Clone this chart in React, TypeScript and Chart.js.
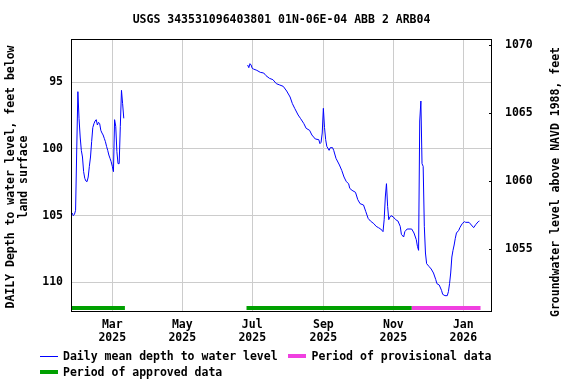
import React, { useEffect, useRef } from "react";
import { Chart, registerables } from "chart.js";

Chart.register(...registerables);

const FONT = '"DejaVu Sans Mono", "Liberation Mono", monospace';

const titleText = "USGS 343531096403801 01N-06E-04 ABB 2 ARB04";
const leftTitleLines = ["DAILY Depth to water level, feet below", "land surface"];
const rightTitleText = "Groundwater level above NAVD 1988, feet";
const legendLineLabel = "Daily mean depth to water level";
const legendProvisionalLabel = "Period of provisional data";
const legendApprovedLabel = "Period of approved data";

// Daily mean depth to water (feet below land surface); null marks the data gap
const obsDates = [
  "2025-01-25", "2025-01-26", "2025-01-27", "2025-01-28", "2025-01-29", "2025-01-30", "2025-01-31",
  "2025-02-01", "2025-02-02", "2025-02-03", "2025-02-04", "2025-02-05", "2025-02-06", "2025-02-07",
  "2025-02-08", "2025-02-09", "2025-02-10", "2025-02-11", "2025-02-12", "2025-02-13", "2025-02-14",
  "2025-02-15", "2025-02-16", "2025-02-17", "2025-02-18", "2025-02-19", "2025-02-20", "2025-02-21",
  "2025-02-22", "2025-02-23", "2025-02-24", "2025-02-25", "2025-02-26", "2025-02-27", "2025-02-28",
  "2025-03-01", "2025-03-02", "2025-03-03", "2025-03-04", "2025-03-05", "2025-03-06", "2025-03-07",
  "2025-03-08", "2025-03-09", "2025-03-10", "2025-03-11",
  "2025-05-01",
  "2025-06-27", "2025-06-28", "2025-06-29", "2025-06-30", "2025-07-01", "2025-07-02", "2025-07-05",
  "2025-07-08", "2025-07-11", "2025-07-13", "2025-07-16", "2025-07-19", "2025-07-22", "2025-07-25",
  "2025-07-28", "2025-07-31", "2025-08-03", "2025-08-05", "2025-08-07", "2025-08-10", "2025-08-12",
  "2025-08-15", "2025-08-17", "2025-08-20", "2025-08-22", "2025-08-25", "2025-08-28", "2025-08-29",
  "2025-08-30", "2025-08-31", "2025-09-01", "2025-09-02", "2025-09-03", "2025-09-04", "2025-09-06",
  "2025-09-07", "2025-09-09", "2025-09-10", "2025-09-12", "2025-09-15", "2025-09-17", "2025-09-19",
  "2025-09-21", "2025-09-23", "2025-09-24", "2025-09-26", "2025-09-29", "2025-10-01", "2025-10-03",
  "2025-10-06", "2025-10-08", "2025-10-10", "2025-10-12", "2025-10-15", "2025-10-17", "2025-10-19",
  "2025-10-21", "2025-10-23", "2025-10-24", "2025-10-25", "2025-10-26", "2025-10-27", "2025-10-28",
  "2025-10-29", "2025-10-30", "2025-11-01", "2025-11-03", "2025-11-05", "2025-11-07", "2025-11-08",
  "2025-11-10", "2025-11-11", "2025-11-13", "2025-11-17", "2025-11-19", "2025-11-21", "2025-11-22",
  "2025-11-23", "2025-11-24", "2025-11-25", "2025-11-26", "2025-11-27", "2025-11-28", "2025-11-29",
  "2025-11-30", "2025-12-02", "2025-12-04", "2025-12-06", "2025-12-08", "2025-12-09", "2025-12-11",
  "2025-12-13", "2025-12-14", "2025-12-16", "2025-12-18", "2025-12-19", "2025-12-20", "2025-12-21",
  "2025-12-22", "2025-12-23", "2025-12-24", "2025-12-25", "2025-12-26", "2025-12-28", "2025-12-29",
  "2025-12-31", "2026-01-02", "2026-01-03", "2026-01-06", "2026-01-08", "2026-01-10", "2026-01-12",
  "2026-01-14", "2026-01-15",
];

const depths: (number | null)[] = [
  104.8, 105.0, 104.9, 104.6, 100.0, 95.7, 97.7,
  99.1, 100.1, 100.6, 101.7, 102.2, 102.4, 102.45,
  102.1, 101.3, 100.6, 99.45, 98.4, 98.1, 97.9,
  97.8, 98.2, 98.0, 98.1, 98.6, 98.8, 98.95,
  99.2, 99.45, 99.8, 100.1, 100.45, 100.7, 100.95,
  101.3, 101.7, 97.8, 98.3, 100.2, 101.1, 101.1,
  98.3, 95.6, 96.6, 97.7,
  null,
  93.7, 93.9, 93.6, 93.7, 93.95, 94.0, 94.1,
  94.25, 94.3, 94.5, 94.7, 94.8, 95.1, 95.2,
  95.3, 95.65, 96.1, 96.6, 96.95, 97.45, 97.7,
  98.1, 98.45, 98.6, 98.95, 99.25, 99.3, 99.6,
  99.5, 98.8, 96.95, 98.4, 99.3, 99.8, 100.1,
  99.9, 99.9, 100.1, 100.7, 101.2, 101.6, 102.1,
  102.45, 102.6, 102.95, 103.1, 103.25, 103.8, 104.1,
  104.2, 104.7, 105.2, 105.4, 105.6, 105.8, 105.9,
  106.0, 106.2, 105.3, 103.6, 102.6, 104.3, 105.3,
  105.1, 105.0, 105.1, 105.3, 105.4, 105.8, 106.4,
  106.6, 106.2, 106.0, 106.0, 106.3, 106.8, 107.3,
  107.6, 97.9, 96.4, 101.1, 101.3, 105.8, 107.8,
  108.6, 108.8, 109.0, 109.3, 109.8, 110.1, 110.2,
  110.6, 110.9, 111.0, 111.0, 110.7, 110.1, 109.3,
  108.1, 107.6, 107.2, 106.7, 106.3, 106.1, 105.9,
  105.6, 105.45, 105.5, 105.5, 105.7, 105.9, 105.65,
  105.45, 105.4,
];

const approvedStarts = ["2025-01-24", "2025-06-26"];
const approvedEnds = ["2025-03-12", "2025-11-17"];
const provisionalStarts = ["2025-11-17"];
const provisionalEnds = ["2026-01-16"];
const periodBarDepth = 111.92;

const monthTickDates = ["2025-03-01", "2025-05-01", "2025-07-01", "2025-09-01", "2025-11-01", "2026-01-01"];
const monthTickNames = ["Mar", "May", "Jul", "Sep", "Nov", "Jan"];
const monthTickYears = ["2025", "2025", "2025", "2025", "2025", "2026"];

const depthTicks = [95, 100, 105, 110];
const elevTicks = [1055, 1060, 1065, 1070];

const xStart = "2025-01-24";
const xEnd = "2026-01-26";
const depthTop = 91.75;
const depthBottom = 112.15;
const elevBottom = 1050.47;
const elevTop = 1070.44;

const dayNum = (s: string) =>
  Date.UTC(+s.slice(0, 4), +s.slice(5, 7) - 1, +s.slice(8, 10)) / 86400000;

const GREEN = "#00a000";
const PINK = "#f040e0";
const BLUE = "#0000ff";

export default function App() {
  const canvasRef = useRef<HTMLCanvasElement | null>(null);

  useEffect(() => {
    document.body.style.margin = "0";
    const canvas = canvasRef.current;
    if (!canvas) return;

    const linePoints = obsDates.map((d, i) => ({ x: dayNum(d), y: depths[i] }));

    const periodDatasets: any[] = [];
    approvedStarts.forEach((s, i) => {
      periodDatasets.push({
        data: [
          { x: dayNum(s), y: periodBarDepth },
          { x: dayNum(approvedEnds[i]), y: periodBarDepth },
        ],
        borderColor: GREEN,
        borderWidth: 4,
        borderCapStyle: "butt",
        pointRadius: 0,
        yAxisID: "y",
      });
    });
    provisionalStarts.forEach((s, i) => {
      periodDatasets.push({
        data: [
          { x: dayNum(s), y: periodBarDepth },
          { x: dayNum(provisionalEnds[i]), y: periodBarDepth },
        ],
        borderColor: PINK,
        borderWidth: 4,
        borderCapStyle: "butt",
        pointRadius: 0,
        yAxisID: "y",
      });
    });

    const tickFont = { family: FONT, size: 11.5, weight: "bold" as const, lineHeight: 1.1 };

    const decor = {
      id: "decor",
      afterDraw(chart: any) {
        const ctx = chart.ctx as CanvasRenderingContext2D;
        const { left, right, top, bottom } = chart.chartArea;
        ctx.save();
        // frame
        ctx.strokeStyle = "#000";
        ctx.lineWidth = 1;
        ctx.strokeRect(left + 0.5, top + 0.5, right - left - 1, bottom - top);
        // right axis inward ticks
        const y2 = chart.scales.y2;
        elevTicks.forEach((v) => {
          const py = Math.round(y2.getPixelForValue(v)) + 0.5;
          ctx.beginPath();
          ctx.moveTo(right - 3, py);
          ctx.lineTo(right, py);
          ctx.stroke();
        });

        ctx.fillStyle = "#000";
        ctx.font = `bold 11.5px ${FONT}`;
        ctx.textBaseline = "middle";
        // title
        ctx.textAlign = "center";
        ctx.fillText(titleText, (left + right) / 2, 20);

        // left axis title
        const midY = (top + bottom) / 2 + 2;
        ctx.save();
        ctx.translate(11, midY);
        ctx.rotate(-Math.PI / 2);
        ctx.fillText(leftTitleLines[0], 0, 0);
        ctx.restore();
        ctx.save();
        ctx.translate(24.5, midY);
        ctx.rotate(-Math.PI / 2);
        ctx.fillText(leftTitleLines[1], 0, 0);
        ctx.restore();
        // right axis title
        ctx.save();
        ctx.translate(556.5, midY + 5);
        ctx.rotate(-Math.PI / 2);
        ctx.fillText(rightTitleText, 0, 0);
        ctx.restore();

        // legend
        ctx.textAlign = "left";
        ctx.strokeStyle = BLUE;
        ctx.lineWidth = 1;
        ctx.beginPath();
        ctx.moveTo(40, 356.5);
        ctx.lineTo(58, 356.5);
        ctx.stroke();
        ctx.fillText(legendLineLabel, 63, 357);

        ctx.strokeStyle = PINK;
        ctx.lineWidth = 4;
        ctx.beginPath();
        ctx.moveTo(288, 356);
        ctx.lineTo(306, 356);
        ctx.stroke();
        ctx.fillText(legendProvisionalLabel, 311.5, 357);

        ctx.strokeStyle = GREEN;
        ctx.beginPath();
        ctx.moveTo(40, 372);
        ctx.lineTo(58, 372);
        ctx.stroke();
        ctx.fillText(legendApprovedLabel, 63, 373);
        ctx.restore();
      },
    };

    const chart = new Chart(canvas, {
      type: "line",
      data: {
        datasets: [
          {
            data: linePoints,
            borderColor: BLUE,
            borderWidth: 1,
            pointRadius: 0,
            tension: 0,
            spanGaps: false,
            yAxisID: "y",
          } as any,
          ...periodDatasets,
        ],
      },
      options: {
        animation: false,
        responsive: false,
        devicePixelRatio: 1,
        layout: { padding: { top: 39, left: 0, right: 0, bottom: 0 } },
        plugins: {
          legend: { display: false },
          title: { display: false },
          tooltip: { enabled: false },
        },
        scales: {
          x: {
            type: "linear",
            min: dayNum(xStart),
            max: dayNum(xEnd),
            afterBuildTicks: (s: any) => {
              s.ticks = monthTickDates.map((d) => ({ value: dayNum(d) }));
            },
            afterFit: (s: any) => {
              s.height = 73;
            },
            ticks: {
              autoSkip: false,
              maxRotation: 0,
              minRotation: 0,
              padding: 8,
              color: "#000",
              font: tickFont,
              callback: (v: any) => {
                const i = monthTickDates.findIndex((d) => dayNum(d) === v);
                return i >= 0 ? [monthTickNames[i], monthTickYears[i]] : "";
              },
            },
            grid: { color: "#cccccc", drawTicks: false, lineWidth: 1 },
            border: { display: false },
          },
          y: {
            type: "linear",
            position: "left",
            reverse: true,
            min: depthTop,
            max: depthBottom,
            afterBuildTicks: (s: any) => {
              s.ticks = depthTicks.map((v) => ({ value: v }));
            },
            afterFit: (s: any) => {
              s.width = 71;
            },
            ticks: {
              padding: 8,
              color: "#000",
              font: tickFont,
              callback: (v: any) => String(v),
            },
            grid: { color: "#cccccc", drawTicks: false, lineWidth: 1 },
            border: { display: false },
          },
          y2: {
            type: "linear",
            position: "right",
            min: elevBottom,
            max: elevTop,
            afterBuildTicks: (s: any) => {
              s.ticks = elevTicks.map((v) => ({ value: v }));
            },
            afterFit: (s: any) => {
              s.width = 84;
            },
            ticks: {
              padding: 13,
              color: "#000",
              font: tickFont,
              callback: (v: any) => String(v),
            },
            grid: { drawOnChartArea: false, drawTicks: false },
            border: { display: false },
          },
        },
      } as any,
      plugins: [decor],
    });

    return () => chart.destroy();
  }, []);

  return (
    <div style={{ width: 576, height: 384 }}>
      <canvas ref={canvasRef} width={576} height={384} style={{ display: "block" }} />
    </div>
  );
}
